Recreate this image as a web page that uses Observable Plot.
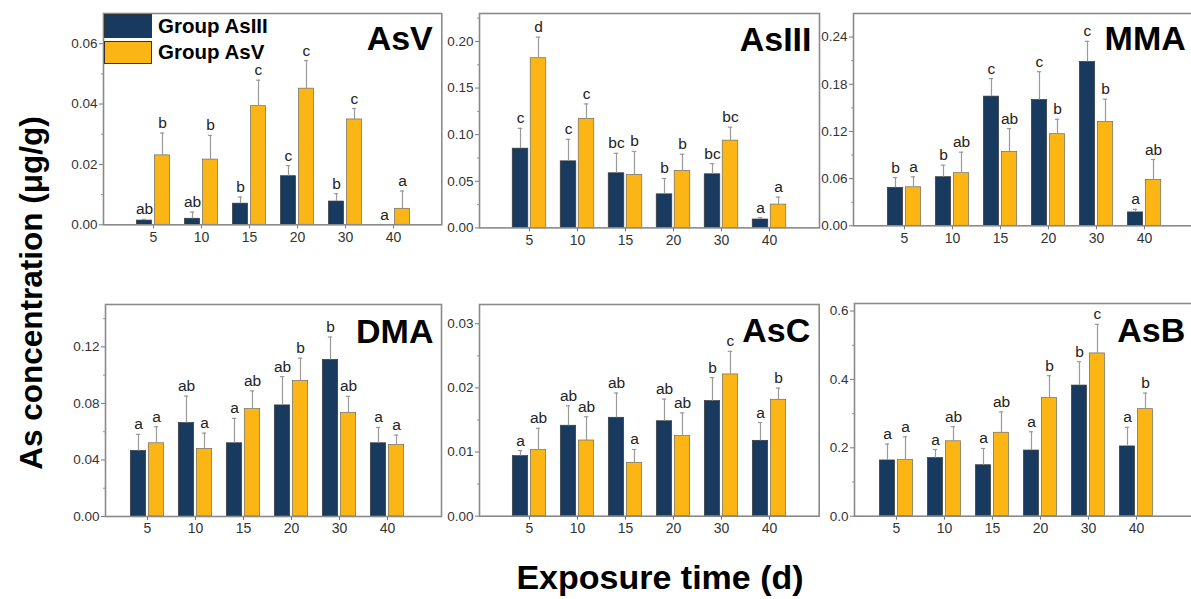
<!DOCTYPE html>
<html>
<head>
<meta charset="utf-8">
<script src="https://cdn.jsdelivr.net/npm/d3@7"></script>
<script src="https://cdn.jsdelivr.net/npm/@observablehq/plot@0.6"></script>
<style>
  html, body { margin: 0; padding: 0; background: #fff; }
  #wrap { position: relative; width: 1191px; height: 599px; overflow: hidden; background: #fff;
          font-family: "Liberation Sans", Arial, Helvetica, sans-serif; }
  .abs { position: absolute; }
</style>
</head>
<body>
<div id="wrap"></div>
<script>
// ---------- data ----------
const days = ["5", "10", "15", "20", "30", "40"];
const groups = ["Group AsIII", "Group AsV"];

const asvMeanIII = [0.0014, 0.0020, 0.0070, 0.0161, 0.0077, 0];
const asvSdIII   = [0.0004, 0.0022, 0.0022, 0.0035, 0.0026, 0];
const asvLetIII  = ["ab", "ab", "b", "c", "b", "a"];
const asvMeanV   = [0.0230, 0.0216, 0.0393, 0.0451, 0.0349, 0.0053];
const asvSdV     = [0.0074, 0.0080, 0.0086, 0.0093, 0.0036, 0.0059];
const asvLetV    = ["b", "b", "c", "c", "c", "a"];

const asiiiMeanIII = [0.085, 0.0714, 0.0586, 0.036, 0.0575, 0.009];
const asiiiSdIII   = [0.0218, 0.0236, 0.0214, 0.017, 0.0115, 0.002];
const asiiiLetIII  = ["c", "c", "bc", "b", "bc", "a"];
const asiiiMeanV   = [0.182, 0.117, 0.0568, 0.061, 0.0936, 0.025];
const asiiiSdV     = [0.0226, 0.016, 0.0252, 0.018, 0.0144, 0.008];
const asiiiLetV    = ["d", "c", "b", "b", "bc", "a"];

const mmaMeanIII = [0.0483, 0.0618, 0.1643, 0.160, 0.2084, 0.017];
const mmaSdIII   = [0.0131, 0.0153, 0.0229, 0.036, 0.0262, 0.004];
const mmaLetIII  = ["b", "b", "c", "c", "c", "a"];
const mmaMeanV   = [0.049, 0.0669, 0.094, 0.1165, 0.132, 0.0584];
const mmaSdV     = [0.0133, 0.0267, 0.0297, 0.019, 0.029, 0.0259];
const mmaLetV    = ["a", "ab", "ab", "b", "b", "ab"];

const dmaMeanIII = [0.0464, 0.0661, 0.0518, 0.0786, 0.1108, 0.0518];
const dmaSdIII   = [0.0117, 0.0191, 0.0176, 0.0204, 0.0162, 0.0112];
const dmaLetIII  = ["a", "ab", "a", "ab", "b", "a"];
const dmaMeanV   = [0.0518, 0.0478, 0.076, 0.0958, 0.0732, 0.0506];
const dmaSdV     = [0.0117, 0.0112, 0.0129, 0.0162, 0.0118, 0.007];
const dmaLetV    = ["a", "a", "ab", "b", "ab", "a"];

const ascMeanIII = [0.00936, 0.0141, 0.01534, 0.0148, 0.01794, 0.01175];
const ascSdIII   = [0.00088, 0.0031, 0.00386, 0.00345, 0.00366, 0.00285];
const ascLetIII  = ["a", "ab", "ab", "ab", "b", "a"];
const ascMeanV   = [0.0103, 0.0118, 0.00832, 0.01248, 0.0221, 0.01815];
const ascSdV     = [0.0034, 0.0037, 0.00208, 0.00362, 0.0036, 0.00182];
const ascLetV    = ["ab", "ab", "a", "ab", "c", "b"];

const asbMeanIII = [0.163, 0.170, 0.149, 0.192, 0.382, 0.204];
const asbSdIII   = [0.048, 0.025, 0.049, 0.055, 0.070, 0.056];
const asbLetIII  = ["a", "a", "a", "a", "b", "a"];
const asbMeanV   = [0.164, 0.219, 0.244, 0.3456, 0.476, 0.313];
const asbSdV     = [0.068, 0.043, 0.061, 0.0654, 0.085, 0.047];
const asbLetV    = ["a", "ab", "ab", "b", "c", "b"];

// ---------- styles ----------
const NAVY = "#173a5e";
const GOLD = "#fbb616";
const FONT = "'Liberation Sans', Arial, Helvetica, sans-serif";

// panel layout (page pixels): frame box, first/last category centers, y max, tick step
const panels = [
  {name: "AsV",   L: 102.7, T: 13,    R: 441,  B: 224.3, c1: 150.7, c6: 395,    ymax: 0.07,  step: 0.02, dec: 2, tdx: -9,  tdy: 37,
   m1: asvMeanIII, s1: asvSdIII, l1: asvLetIII, m2: asvMeanV, s2: asvSdV, l2: asvLetV},
  {name: "AsIII", L: 479,   T: 13.3,  R: 819,  B: 227.7, c1: 527.7, c6: 770,    ymax: 0.23,  step: 0.05, dec: 2, tdx: -8,  tdy: 38,
   m1: asiiiMeanIII, s1: asiiiSdIII, l1: asiiiLetIII, m2: asiiiMeanV, s2: asiiiSdV, l2: asiiiLetV},
  {name: "MMA",   L: 852.7, T: 12.7,  R: 1196, B: 225,   c1: 901.7, c6: 1145,   ymax: 0.27,  step: 0.06, dec: 2, tdx: -11, tdy: 37,
   m1: mmaMeanIII, s1: mmaSdIII, l1: mmaLetIII, m2: mmaMeanV, s2: mmaSdV, l2: mmaLetV},
  {name: "DMA",   L: 105,   T: 304,   R: 441,  B: 516,   c1: 145,   c6: 388.3,  ymax: 0.15,  step: 0.04, dec: 2, tdx: -8,  tdy: 38,
   m1: dmaMeanIII, s1: dmaSdIII, l1: dmaLetIII, m2: dmaMeanV, s2: dmaSdV, l2: dmaLetV},
  {name: "AsC",   L: 479.3, T: 304,   R: 819,  B: 515.7, c1: 527.7, c6: 771,    ymax: 0.033, step: 0.01, dec: 2, tdx: -9,  tdy: 38,
   m1: ascMeanIII, s1: ascSdIII, l1: ascLetIII, m2: ascMeanV, s2: ascSdV, l2: ascLetV},
  {name: "AsB",   L: 854.3, T: 303.3, R: 1196, B: 516,   c1: 894,   c6: 1138.3, ymax: 0.622, step: 0.2,  dec: 1, tdx: -11, tdy: 39,
   m1: asbMeanIII, s1: asbSdIII, l1: asbLetIII, m2: asbMeanV, s2: asbSdV, l2: asbLetV}
];

const wrap = document.getElementById("wrap");

function makePanel(p) {
  const mL = 52, mR = 4, mT = 6, mB = 30;
  const width = (p.R - p.L) + mL + mR;
  const height = (p.B - p.T) + mT + mB;
  const s = (p.c6 - p.c1) / 5;
  const half = s / 2;
  const x0 = mL + (p.c1 - p.L) - half;
  const x1 = mL + (p.c6 - p.L) + half;

  const rows = days.map((d, i) => ({
    day: d, m1: p.m1[i], s1: p.s1[i], l1: p.l1[i], m2: p.m2[i], s2: p.s2[i], l2: p.l2[i]
  }));

  const nMaj = Math.floor(p.ymax / p.step + 1e-6);
  const majors = d3.range(0, nMaj + 1).map(i => +(i * p.step).toFixed(4));
  const minors = d3.range(0, nMaj + 1).map(i => +((i + 0.5) * p.step).toFixed(4)).filter(v => v < p.ymax);

  const barW = 16, gap = 1;       // bar width & half-gap (px)
  const off = gap + barW / 2;     // offset of each bar center from category center
  const capW = 5;

  const svg = Plot.plot({
    width, height,
    marginLeft: mL, marginRight: mR, marginTop: mT, marginBottom: mB,
    x: {type: "band", domain: days, range: [x0, x1], padding: 0, axis: null, label: null},
    y: {domain: [0, p.ymax], axis: null, label: null},
    style: {fontFamily: FONT, background: "transparent", overflow: "visible"},
    marks: [
      // bars
      Plot.barY(rows, {x: "day", y: "m1", fill: NAVY, stroke: "#3a3a3a", strokeWidth: 0.7,
        insetLeft: half - off - barW / 2, insetRight: half + gap}),
      Plot.barY(rows, {x: "day", y: "m2", fill: GOLD, stroke: "#6b6b6b", strokeWidth: 0.7,
        insetLeft: half + gap, insetRight: half - off - barW / 2}),
      // error bars (upper only)
      Plot.ruleX(rows.filter(d => d.s1 > 0), {x: "day", y1: "m1", y2: d => d.m1 + d.s1, dx: -off, stroke: "#9a9a9a", strokeWidth: 1.2}),
      Plot.ruleX(rows.filter(d => d.s2 > 0), {x: "day", y1: "m2", y2: d => d.m2 + d.s2, dx: off, stroke: "#9a9a9a", strokeWidth: 1.2}),
      Plot.tickY(rows.filter(d => d.s1 > 0), {x: "day", y: d => d.m1 + d.s1, stroke: "#9a9a9a", strokeWidth: 1.2,
        insetLeft: half - off - capW / 2, insetRight: half + off - capW / 2}),
      Plot.tickY(rows.filter(d => d.s2 > 0), {x: "day", y: d => d.m2 + d.s2, stroke: "#9a9a9a", strokeWidth: 1.2,
        insetLeft: half + off - capW / 2, insetRight: half - off - capW / 2}),
      // significance letters
      Plot.text(rows, {x: "day", y: d => d.m1 + d.s1, text: "l1", dx: -off, dy: -5, lineAnchor: "bottom",
        fontSize: 15.5, fill: "#222"}),
      Plot.text(rows, {x: "day", y: d => d.m2 + d.s2, text: "l2", dx: off, dy: -5, lineAnchor: "bottom",
        fontSize: 15.5, fill: "#222"}),
      // axes
      Plot.axisY({ticks: majors, tickFormat: d3.format(`.${p.dec}f`), tickSize: 4, tickPadding: 2,
        fontSize: 13.5, stroke: "#777", fill: "#333", label: null}),
      Plot.axisY({ticks: minors, tickFormat: () => "", tickSize: 2, stroke: "#999", label: null}),
      Plot.axisX({tickSize: 4, tickPadding: 3, fontSize: 14, stroke: "#777", fill: "#333", label: null}),
      Plot.frame({stroke: "#8a8a8a", strokeWidth: 1.6}),
      // panel title
      Plot.text([p.name], {frameAnchor: "top-right", dx: p.tdx, dy: p.tdy, lineAnchor: "bottom",
        text: d => d, fontSize: 34, fontWeight: "bold", fill: "#000"})
    ]
  });
  svg.classList.add("abs");
  svg.style.left = (p.L - mL) + "px";
  svg.style.top = (p.T - mT) + "px";
  wrap.appendChild(svg);
}

panels.forEach(makePanel);

// ---------- legend (top-left of first panel) ----------
const legendColors = [NAVY, GOLD];
groups.forEach((g, i) => {
  const top = 14 + i * 26.7;
  const sw = document.createElement("div");
  sw.className = "abs";
  Object.assign(sw.style, {left: "104.3px", top: top + "px", width: "45.5px", height: "21.5px",
    background: legendColors[i], border: "1px solid #333"});
  wrap.appendChild(sw);
  const tx = document.createElement("div");
  tx.className = "abs";
  tx.textContent = g;
  Object.assign(tx.style, {left: "158px", top: (top - 0.5) + "px", height: "23px", lineHeight: "23px",
    fontSize: "20.5px", fontWeight: "bold", color: "#000", whiteSpace: "nowrap"});
  wrap.appendChild(tx);
});

// ---------- shared axis titles ----------
const yTitle = document.createElement("div");
yTitle.className = "abs";
yTitle.textContent = "As concentration (μg/g)";
Object.assign(yTitle.style, {left: "31px", top: "293px", transform: "translate(-50%, -50%) rotate(-90deg)",
  fontSize: "31.5px", fontWeight: "bold", color: "#000", whiteSpace: "nowrap"});
wrap.appendChild(yTitle);

const xTitle = document.createElement("div");
xTitle.className = "abs";
xTitle.textContent = "Exposure time (d)";
Object.assign(xTitle.style, {left: "660px", top: "577px", transform: "translate(-50%, -50%)",
  fontSize: "34px", fontWeight: "bold", color: "#000", whiteSpace: "nowrap"});
wrap.appendChild(xTitle);
</script>
</body>
</html>
